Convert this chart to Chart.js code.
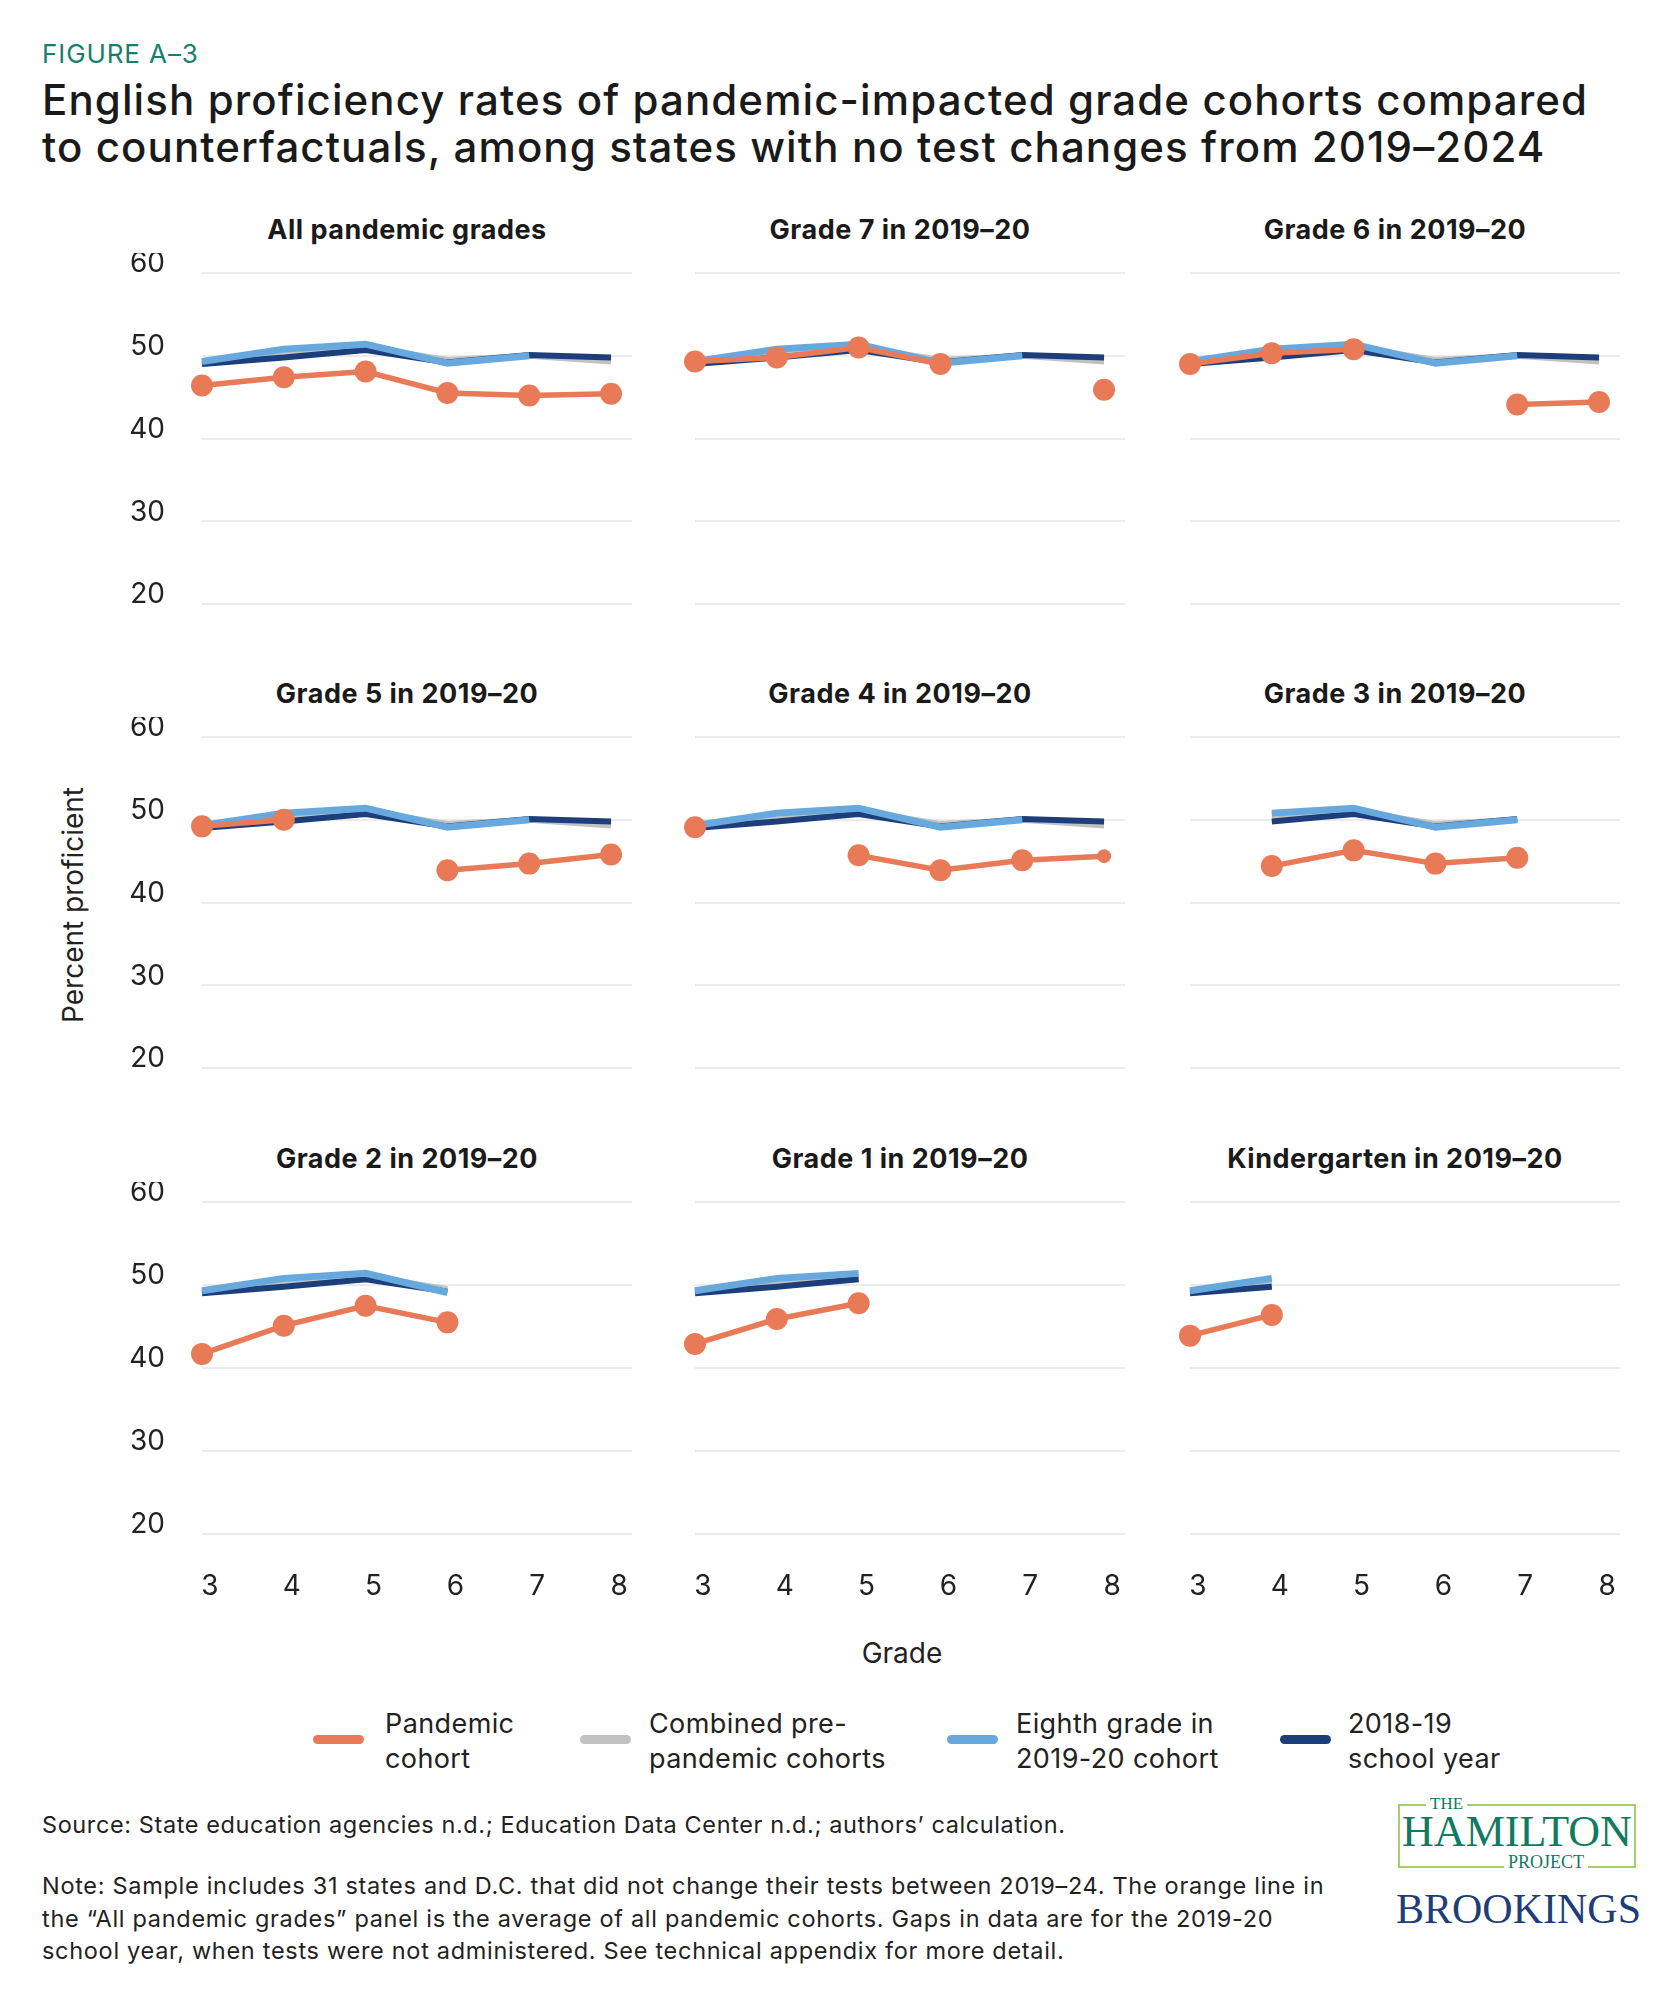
<!DOCTYPE html>
<html>
<head>
<meta charset="utf-8">
<script src="https://cdn.jsdelivr.net/npm/chart.js@4.4.1/dist/chart.umd.min.js"></script>
<style>
  body { margin: 0; background: #fff; font-family: Inter, "DejaVu Sans", sans-serif; color: #222; }
  #page { position: relative; width: 1680px; height: 2001px; overflow: hidden; background: #fff; }
  .abs { position: absolute; white-space: nowrap; }
  #fig { left: 42px; top: 40px; font-size: 26px; line-height: 28px; letter-spacing: 0.9px; color: #17806b; }
  #title { left: 42px; top: 76px; font-size: 42px; line-height: 47px; font-weight: 500; color: #1a1a1a; letter-spacing: 1.1px; }
  .ptitle { position: absolute; width: 500px; text-align: center; font-size: 27px; line-height: 30px; font-weight: 700; letter-spacing: 0.5px; color: #1a1a1a; }
  #ytitle { left: 73px; top: 905px; font-size: 28px; transform: translate(-50%, -50%) rotate(-90deg); }
  #xtitle { left: 902px; top: 1653px; font-size: 28px; transform: translate(-50%, -50%); }
  .lgswatch { position: absolute; width: 51px; height: 9px; border-radius: 4.5px; }
  .lgtext { position: absolute; font-size: 27px; line-height: 35px; letter-spacing: 0.4px; white-space: nowrap; }
  #source { left: 42px; top: 1809px; font-size: 23.5px; line-height: 32px; letter-spacing: 0.6px; }
  #note { left: 42px; top: 1870px; font-size: 23.5px; line-height: 32.5px; letter-spacing: 0.7px; }
  .serif { font-family: "Liberation Serif", "DejaVu Serif", serif; }
</style>
</head>
<body>
<div id="page">
  <div class="abs" id="fig">FIGURE A–3</div>
  <div class="abs" id="title">English proficiency rates of pandemic-impacted grade cohorts compared<br>to counterfactuals, among states with no test changes from 2019–2024</div>
  <div class="abs" id="ytitle">Percent proficient</div>
  <div class="abs" id="xtitle">Grade</div>
  <div id="legend"></div>
  <div class="abs" id="source">Source: State education agencies n.d.; Education Data Center n.d.; authors’ calculation.</div>
  <div class="abs" id="note">Note: Sample includes 31 states and D.C. that did not change their tests between 2019–24. The orange line in<br>the “All pandemic grades” panel is the average of all pandemic cohorts. Gaps in data are for the 2019-20<br>school year, when tests were not administered. See technical appendix for more detail.</div>

  <div class="abs serif" style="left:1398px;top:1804px;width:234px;height:60px;border:2px solid #a3cf6c;"></div>
  <div class="abs serif" style="left:1426px;top:1795px;padding:0 4px;background:#fff;font-size:17px;line-height:18px;color:#127a62;">THE</div>
  <div class="abs serif" style="left:1398px;top:1809px;width:238px;text-align:center;font-size:44px;line-height:46px;color:#127a62;">HAMILTON</div>
  <div class="abs serif" style="left:1504px;top:1853px;padding:0 4px;background:#fff;font-size:18px;line-height:18px;color:#127a62;">PROJECT</div>
  <div class="abs serif" style="left:1396px;top:1886px;font-size:42px;line-height:46px;color:#1f3e78;">BROOKINGS</div>
</div>

<script>
// grades on the x axis and y ticks
const grades = [3, 4, 5, 6, 7, 8];
const yTicks = [20, 30, 40, 50, 60];

// counterfactual series (same in every panel, cut to the panel's grade range)
const combinedPrePandemic = [49.2, 50.5, 51.1, 49.5, 50.0, 49.3];
const eighthGradeCohort = [49.3, 50.8, 51.4, 49.1, 50.0, null];
const schoolYear1819 = [49.0, 49.8, 50.7, 49.2, 50.1, 49.8];

// pandemic cohort values per panel
const allPandemic = [46.4, 47.4, 48.1, 45.5, 45.2, 45.4];
const grade7Cohort = [49.3, 49.8, 51.0, 49.0, null, 45.9];
const grade6Cohort = [49.0, 50.3, 50.8, null, 44.1, 44.4];
const grade5Cohort = [49.2, 50.0, null, 43.9, 44.7, 45.8];
const grade4Cohort = [49.1, null, 45.7, 43.9, 45.1, 45.6];
const grade3Cohort = [null, 44.4, 46.3, 44.7, 45.4, null];
const grade2Cohort = [41.7, 45.1, 47.5, 45.5, null, null];
const grade1Cohort = [42.9, 45.9, 47.8, null, null, null];
const kinderCohort = [43.9, 46.4, null, null, null, null];

const panelTitles = ['All pandemic grades', 'Grade 7 in 2019–20', 'Grade 6 in 2019–20',
  'Grade 5 in 2019–20', 'Grade 4 in 2019–20', 'Grade 3 in 2019–20',
  'Grade 2 in 2019–20', 'Grade 1 in 2019–20', 'Kindergarten in 2019–20'];
const panelCohorts = [allPandemic, grade7Cohort, grade6Cohort, grade5Cohort, grade4Cohort,
  grade3Cohort, grade2Cohort, grade1Cohort, kinderCohort];
// first and last grade where the counterfactual lines are shown
const lineFrom = [3, 3, 3, 3, 3, 4, 3, 3, 3];
const lineTo = [8, 8, 8, 8, 8, 7, 6, 5, 4];

const legendLabels = [['Pandemic', 'cohort'], ['Combined pre-', 'pandemic cohorts'],
  ['Eighth grade in', '2019-20 cohort'], ['2018-19', 'school year']];

const ORANGE = '#e87a57';
const GRAY = '#c2c2c2';
const LBLUE = '#68a9dd';
const DBLUE = '#1c3f7c';
const legendColors = [ORANGE, GRAY, LBLUE, DBLUE];

// layout
const colX = [202, 695, 1190];
const rowY = [273, 737, 1202];
const plotW = 430, plotH = 332;
const page = document.getElementById('page');

const cut = (arr, i) => arr.map((v, k) => (grades[k] < lineFrom[i] || grades[k] > lineTo[i]) ? null : v);
const pts = arr => grades.map((g, k) => ({ x: g, y: arr[k] }));

const makePanel = (i) => {
  const col = i % 3, row = Math.floor(i / 3);
  const axisW = 103, padT = 20, padR = 14, padB = 10;
  const bottomRow = row === 2;
  const xAxisH = bottomRow ? 75 : 0;
  const cw = axisW + plotW + padR, ch = padT + plotH + xAxisH + padB;

  const t = document.createElement('div');
  t.className = 'ptitle';
  t.textContent = panelTitles[i];
  t.style.left = (colX[col] + 205 - 250) + 'px';
  t.style.top = (rowY[row] - 43 - 15) + 'px';
  page.appendChild(t);

  const wrap = document.createElement('div');
  wrap.style.cssText = `position:absolute;left:${colX[col] - axisW}px;top:${rowY[row] - padT}px;width:${cw}px;height:${ch}px;`;
  const canvas = document.createElement('canvas');
  canvas.width = cw; canvas.height = ch;
  wrap.appendChild(canvas);
  page.appendChild(wrap);

  // the last Grade 4 marker is drawn smaller in the original
  const radii = grades.map((g, k) => (i === 4 && k === 5) ? 7 : 11);

  new Chart(canvas, {
    type: 'line',
    data: {
      datasets: [
        { label: 'Pandemic cohort', data: pts(panelCohorts[i]), borderColor: ORANGE, backgroundColor: ORANGE,
          borderWidth: 5.5, pointRadius: radii, pointBorderWidth: 0, pointBackgroundColor: ORANGE, clip: false },
        { label: 'Eighth grade in 2019-20 cohort', data: pts(cut(eighthGradeCohort, i)), borderColor: LBLUE,
          borderWidth: 7, pointRadius: 0, clip: false },
        { label: '2018-19 school year', data: pts(cut(schoolYear1819, i)), borderColor: DBLUE,
          borderWidth: 6, pointRadius: 0, clip: false },
        { label: 'Combined pre-pandemic cohorts', data: pts(cut(combinedPrePandemic, i)), borderColor: GRAY,
          borderWidth: 6, pointRadius: 0, clip: false }
      ]
    },
    options: {
      responsive: false,
      animation: false,
      layout: { padding: { top: padT, right: padR, bottom: padB, left: 0 } },
      plugins: { legend: { display: false }, tooltip: { enabled: false }, title: { display: false } },
      scales: {
        x: {
          type: 'linear', min: 3, max: 8 + 21 / 82,
          afterBuildTicks: s => { s.ticks = grades.map(v => ({ value: v })); },
          afterFit: s => { s.height = xAxisH; s.paddingLeft = 0; s.paddingRight = 0; },
          grid: { display: false, drawTicks: false },
          border: { display: false },
          ticks: { display: bottomRow, padding: 36, labelOffset: 8, autoSkip: false, maxRotation: 0,
            font: { family: 'Inter', size: 28 }, color: '#222' }
        },
        y: {
          min: 20, max: 60,
          afterBuildTicks: s => { s.ticks = yTicks.map(v => ({ value: v })); },
          afterFit: s => { s.width = axisW; s.paddingTop = 0; s.paddingBottom = 0; },
          grid: { color: '#ebebeb', lineWidth: 2, drawTicks: false },
          border: { display: false },
          ticks: { display: col === 0, padding: 37, labelOffset: -9,
            font: { family: 'Inter', size: 28 }, color: '#222' }
        }
      }
    }
  });
};

panelTitles.forEach((_, i) => makePanel(i));

// legend
const lgSwatchX = [313, 580, 947, 1280];
const lgTextX = [385, 649, 1016, 1348];
const legend = document.getElementById('legend');
legendLabels.forEach((lines, k) => {
  const sw = document.createElement('div');
  sw.className = 'lgswatch';
  sw.style.left = lgSwatchX[k] + 'px';
  sw.style.top = (1739 - 4.5) + 'px';
  sw.style.background = legendColors[k];
  legend.appendChild(sw);
  const tx = document.createElement('div');
  tx.className = 'lgtext';
  tx.style.left = lgTextX[k] + 'px';
  tx.style.top = (1723 - 17.5) + 'px';
  tx.innerHTML = lines.join('<br>');
  legend.appendChild(tx);
});
</script>
</body>
</html>
